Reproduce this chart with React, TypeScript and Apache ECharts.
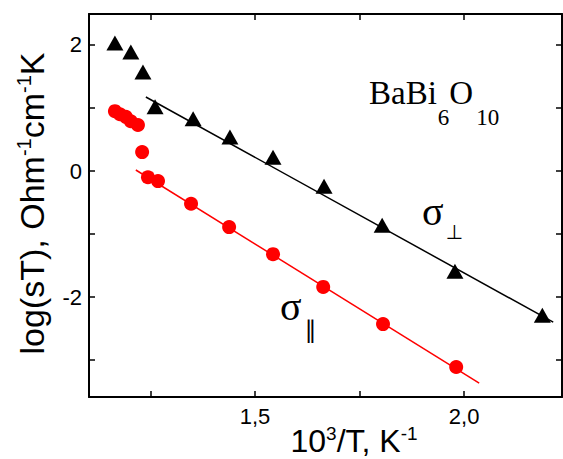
import React, { useEffect, useRef } from 'react';
import * as echarts from 'echarts';

// ---- data ----
const perpX = [1.165, 1.203, 1.232, 1.261, 1.352, 1.44, 1.543, 1.665, 1.804, 1.978, 2.187];
const perpY = [2.03, 1.89, 1.57, 1.02, 0.83, 0.54, 0.22, -0.24, -0.86, -1.59, -2.29];
const parX = [1.165, 1.177, 1.191, 1.203, 1.22, 1.23, 1.244, 1.268, 1.347, 1.438, 1.543, 1.663, 1.806, 1.981];
const parY = [0.95, 0.9, 0.86, 0.79, 0.73, 0.3, -0.1, -0.16, -0.52, -0.89, -1.32, -1.84, -2.43, -3.11];
const fitPerpX = [1.239, 2.213];
const fitPerpY = [1.175, -2.4];
const fitParX = [1.215, 2.036];
const fitParY = [0.016, -3.365];
const xTicks = [1.25, 1.5, 1.75, 2.0];
const xLabels = [1.5, 2.0];
const yTicks = [-3, -2, -1, 0, 1, 2];
const yLabels = [-2, 0, 2];
const xMin = 1.103;
const xMax = 2.234;
const yMin = -3.587;
const yMax = 2.492;

const SANS = '"Liberation Sans", Arial, sans-serif';
const SERIF = '"Liberation Serif", "Times New Roman", serif';

type Piece = { t: string; fs: number; rise: number; fam?: string; gap?: number };

let ctx: CanvasRenderingContext2D | null = null;
function measure(t: string, fs: number, fam: string) {
  if (!ctx) ctx = document.createElement('canvas').getContext('2d');
  if (!ctx) return t.length * fs * 0.55;
  ctx.font = `${fs}px ${fam}`;
  return ctx.measureText(t).width;
}

function buildPieces(list: Piece[], fam: string, center: boolean) {
  const widths = list.map((p) => measure(p.t, p.fs, p.fam || fam) + (p.gap || 0));
  const total = widths.reduce((a, b) => a + b, 0);
  let x = center ? -total / 2 : 0;
  const k = fam === SANS ? 0.3465 : 0.3375;
  return list.map((p, i) => {
    const el = {
      type: 'text',
      x: x + (p.gap || 0),
      y: -p.rise - k * p.fs,
      style: {
        text: p.t,
        font: `${p.fs}px ${p.fam || fam}`,
        fill: '#000',
        align: 'left',
        textAlign: 'left',
        verticalAlign: 'middle',
        textVerticalAlign: 'middle',
      },
    };
    x += widths[i];
    return el;
  });
}

export default function App() {
  const ref = useRef<HTMLDivElement>(null);
  useEffect(() => {
    document.body.style.margin = '0';
    if (!ref.current) return;
    const chart = echarts.init(ref.current, undefined, { renderer: 'svg' });

    const axisLine = { show: true, onZero: false, lineStyle: { color: '#000', width: 2 } };
    const tick = (vals: number[]) => ({
      show: true,
      inside: true,
      length: 6,
      customValues: vals,
      lineStyle: { color: '#000', width: 1.5 },
    });

    const yName = buildPieces(
      [
        { t: 'log(sT), Ohm', fs: 34, rise: 0 },
        { t: '-1', fs: 20, rise: 13 },
        { t: 'cm', fs: 34, rise: 0 },
        { t: '-1', fs: 20, rise: 13 },
        { t: 'K', fs: 34, rise: 0 },
      ],
      SANS,
      true
    );
    const xName = buildPieces(
      [
        { t: '10', fs: 32, rise: 0 },
        { t: '3', fs: 19, rise: 12 },
        { t: '/T, K', fs: 32, rise: 0 },
        { t: '-1', fs: 19, rise: 12 },
      ],
      SANS,
      true
    );
    const formula = buildPieces(
      [
        { t: 'BaBi', fs: 33, rise: 0 },
        { t: '6', fs: 23, rise: -21, gap: 1 },
        { t: 'O', fs: 33, rise: 0 },
        { t: '10', fs: 23, rise: -21, gap: 3 },
      ],
      SERIF,
      false
    );
    const sigPerp = buildPieces(
      [
        { t: 'σ', fs: 40, rise: 0 },
        { t: '⊥', fs: 20, rise: -14, fam: '"DejaVu Sans", sans-serif', gap: 2 },
      ],
      SERIF,
      false
    );
    const sigPar = buildPieces(
      [
        { t: 'σ', fs: 40, rise: 0 },
        { t: '∥', fs: 24, rise: -18, fam: '"DejaVu Sans", sans-serif', gap: 3 },
      ],
      SERIF,
      false
    );

    chart.setOption({
      animation: false,
      backgroundColor: '#fff',
      grid: {
        left: 89,
        right: 1,
        top: 14,
        bottom: 62,
        containLabel: false,
        outerBoundsMode: 'none',
      },
      xAxis: [
        {
          type: 'value',
          position: 'bottom',
          min: xMin,
          max: xMax,
          axisLine,
          axisTick: tick(xTicks),
          axisLabel: {
            customValues: xLabels,
            formatter: (v: number) => v.toFixed(1).replace('.', ','),
            fontSize: 22,
            fontFamily: SANS,
            color: '#000',
            margin: 8,
          },
          splitLine: { show: false },
        },
        {
          type: 'value',
          position: 'top',
          min: xMin,
          max: xMax,
          axisLine,
          axisTick: tick(xTicks),
          axisLabel: { show: false },
          splitLine: { show: false },
        },
      ],
      yAxis: [
        {
          type: 'value',
          position: 'left',
          min: yMin,
          max: yMax,
          axisLine,
          axisTick: tick(yTicks),
          axisLabel: {
            customValues: yLabels,
            formatter: (v: number) => String(v),
            fontSize: 22,
            fontFamily: SANS,
            color: '#000',
            margin: 7,
          },
          splitLine: { show: false },
        },
        {
          type: 'value',
          position: 'right',
          min: yMin,
          max: yMax,
          axisLine,
          axisTick: tick(yTicks),
          axisLabel: { show: false },
          splitLine: { show: false },
        },
      ],
      series: [
        {
          type: 'line',
          data: fitPerpX.map((x, i) => [x, fitPerpY[i]]),
          symbol: 'none',
          showSymbol: false,
          lineStyle: { color: '#000', width: 1.5 },
          z: 1,
          silent: true,
        },
        {
          type: 'line',
          data: fitParX.map((x, i) => [x, fitParY[i]]),
          symbol: 'none',
          showSymbol: false,
          lineStyle: { color: '#ff0000', width: 1.5 },
          z: 1,
          silent: true,
        },
        {
          type: 'scatter',
          data: perpX.map((x, i) => [x, perpY[i]]),
          symbol: 'triangle',
          symbolSize: [17, 15],
          itemStyle: { color: '#000', opacity: 1 },
          z: 3,
        },
        {
          type: 'scatter',
          data: parX.map((x, i) => [x, parY[i]]),
          symbol: 'circle',
          symbolSize: 14,
          itemStyle: { color: '#ff0000', opacity: 1 },
          z: 3,
        },
      ],
      graphic: [
        { type: 'group', x: 44, y: 203.5, rotation: Math.PI / 2, children: yName },
        { type: 'group', x: 354, y: 452, children: xName },
        { type: 'group', x: 369, y: 104, children: formula },
        { type: 'group', x: 422, y: 225, children: sigPerp },
        { type: 'group', x: 280, y: 320, children: sigPar },
      ],
    });
    return () => chart.dispose();
  }, []);
  return <div ref={ref} style={{ width: 563, height: 459 }} />;
}
